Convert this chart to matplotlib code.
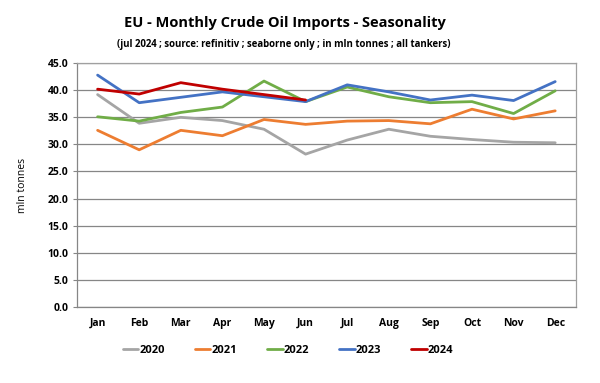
import numpy as np
import matplotlib.pyplot as plt

plt.rcParams['font.family'] = ['Open Sans', 'DejaVu Sans']

months = ['Jan', 'Feb', 'Mar', 'Apr', 'May', 'Jun', 'Jul', 'Aug', 'Sep', 'Oct', 'Nov', 'Dec']
y2020 = [39.2, 33.9, 35.0, 34.4, 32.8, 28.2, 30.8, 32.8, 31.5, 30.9, 30.4, 30.3]
y2021 = [32.6, 29.0, 32.6, 31.6, 34.6, 33.7, 34.3, 34.4, 33.8, 36.5, 34.7, 36.2]
y2022 = [35.1, 34.3, 35.9, 36.9, 41.7, 37.9, 40.6, 38.8, 37.7, 37.9, 35.7, 39.9]
y2023 = [42.8, 37.7, 38.7, 39.7, 38.8, 37.9, 41.0, 39.7, 38.2, 39.1, 38.1, 41.6]
y2024 = [40.2, 39.3, 41.4, 40.2, 39.2, 38.2]

series = [('2020', y2020, '#A5A5A5'),
          ('2021', y2021, '#ED7D31'),
          ('2022', y2022, '#70AD47'),
          ('2023', y2023, '#4472C4'),
          ('2024', y2024, '#C00000')]

fig = plt.figure(figsize=(6, 3.83), dpi=100)
ax = fig.add_axes([0.128, 0.199, 0.832, 0.636])

x = np.arange(len(months))
for name, vals, col in series:
    ax.plot(x[:len(vals)], vals, color=col, lw=2.0, label=name, solid_capstyle='round')

ax.set_xlim(-0.5, 11.5)
ax.set_ylim(0, 45)
ax.set_yticks(np.arange(0, 46, 5))
ax.set_yticklabels(['%.1f' % v for v in np.arange(0, 46, 5)], fontsize=7.5, fontweight='bold')
ax.set_xticks(x)
ax.set_xticklabels(months, fontsize=7.5, fontweight='bold')
ax.tick_params(axis='x', length=0, pad=8)
ax.tick_params(axis='y', length=3, color='#868686', pad=3)
ax.yaxis.grid(True, color='#868686', lw=0.9)
ax.set_axisbelow(True)
for s in ax.spines.values():
    s.set_color('#A0A0A0')
    s.set_linewidth(0.9)
ax.spines['left'].set_color('#868686')
ax.spines['bottom'].set_color('#868686')

ax.set_ylabel('mln tonnes', fontsize=7.5, labelpad=14)

fig.text(0.475, 0.94, 'EU - Monthly Crude Oil Imports - Seasonality', ha='center', va='center',
         fontsize=10.5, fontweight='bold')
fig.text(0.473, 0.883, '(jul 2024 ; source: refinitiv ; seaborne only ; in mln tonnes ; all tankers)',
         ha='center', va='center', fontsize=6.9, fontweight='bold')

fig.legend(loc='center', bbox_to_anchor=(0.48, 0.085), ncol=5, frameon=False,
           prop={'size': 8, 'weight': 'bold'}, handlelength=1.4, handletextpad=0.1,
           columnspacing=2.7)

fig.savefig('out.png', dpi=100)
